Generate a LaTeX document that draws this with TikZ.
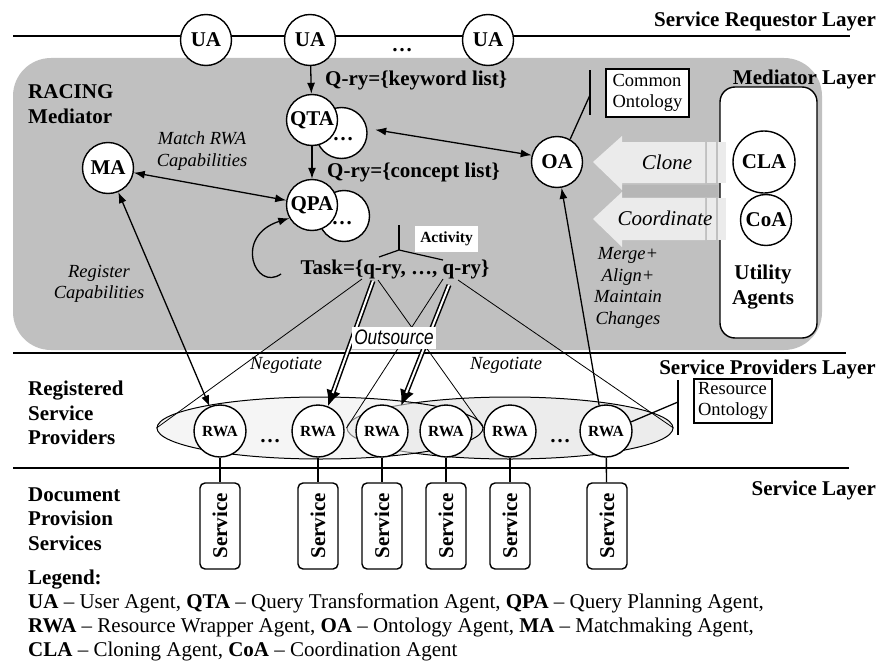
\documentclass[tikz,border=0pt]{standalone}
\usepackage{fontspec}
\usepackage{graphicx}
\setmainfont{Liberation Serif}
\newfontfamily\sansfam{Liberation Sans}
\usetikzlibrary{arrows.meta,shapes.geometric}
\newcommand\fsz[2]{\fontsize{#1}{#2}\selectfont}
\definecolor{medgray}{HTML}{C0C0C0}
\definecolor{lightfill}{HTML}{ECECEC}
\definecolor{arrowfill}{HTML}{EBEBEB}
\definecolor{bandgray}{HTML}{B6B6B6}
\begin{document}
\begin{tikzpicture}[x=1pt,y=-1pt,
 agent/.style={circle, draw, line width=1.4pt, fill=white, minimum size=51pt, inner sep=0pt, font=\bfseries\fsz{21}{24}},
 rwa/.style={agent, minimum size=52pt, font=\bfseries\fsz{15.5}{18}},
 lay/.style={inner sep=0pt, font=\bfseries\fsz{21}{24.5}, align=left},
 bl/.style={inner sep=0pt, font=\bfseries\fsz{21}{24}},
 lbl/.style={inner sep=0pt, font=\itshape\fsz{18.5}{21.5}, align=center},
 arr/.style={line width=1.3pt, -{Latex[length=11pt,width=8pt]}},
 darr/.style={line width=1.3pt, {Latex[length=11pt,width=8pt]}-{Latex[length=11pt,width=8pt]}},
 thinl/.style={line width=0.8pt},
 layline/.style={line width=1.6pt},
 onto/.style={draw, line width=1.1pt, fill=white, align=left, font=\fsz{18.5}{20.5}, inner sep=2.5pt},
 svc/.style={draw, line width=1.4pt, rounded corners=5pt, fill=white, rotate=90, minimum width=86pt, minimum height=40pt, inner sep=0pt, font=\bfseries\fsz{21}{24}},
 outb/.style={line width=5pt, -{Latex[length=16pt,width=15pt]}},
 outw/.style={line width=2pt, white},
 leg/.style={inner sep=0pt, anchor=base west, font=\fsz{21}{24}},
]
\useasboundingbox (0,0) rectangle (877,661);

% ---- mediator area
\fill[medgray, rounded corners=38pt] (13,58) rectangle (822,350);

% ---- layer lines
\coordinate (L1a) at (13,36);  \coordinate (L1b) at (850,36);
\coordinate (L2a) at (13,353); \coordinate (L2b) at (846,353);
\coordinate (L3a) at (13,468); \coordinate (L3b) at (849,468);
\draw[layline] (L1a) -- (L1b);
\draw[layline] (L2a) -- (L2b);
\draw[layline] (L3a) -- (L3b);

% ---- layer titles
\node[bl, anchor=base east] (t1) at (876,27) {Service Requestor Layer};
\node[bl, anchor=base east] (t2) at (876,84) {Mediator Layer};
\node[bl, anchor=base east] (t3) at (876,374) {Service Providers Layer};
\node[bl, anchor=base east] (t4) at (876,495) {Service Layer};

\node[lay, anchor=west] (racing) at (28,104) {RACING\\Mediator};
\node[lay, anchor=west] (regsp) at (28,413) {Registered\\Service\\Providers};
\node[lay, anchor=west] (docps) at (28,519) {Document\\Provision\\Services};

% ---- utility agents block
\fill[bandgray] (622,185) rectangle (718,197);
\fill[arrowfill] (593,162) -- (622,136) -- (622,142) -- (705,142) -- (705,183) -- (622,183) -- (622,190) -- cycle;
\fill[arrowfill] (593,219) -- (622,192) -- (622,198) -- (705,198) -- (705,240) -- (622,240) -- (622,247) -- cycle;
\node[draw, line width=1.4pt, fill=white, rounded corners=15pt, minimum width=97pt, minimum height=251pt, inner sep=0pt] (util) at (768.5,212.5) {};
\fill[arrowfill] (707,142) rectangle (716,183);
\fill[arrowfill] (718,142) rectangle (726,183);
\fill[arrowfill] (707,198) rectangle (716,240);
\fill[arrowfill] (718,198) rectangle (726,240);
\node[inner sep=0pt, font=\itshape\fsz{21}{24}] (clone) at (667,162) {Clone};
\node[inner sep=0pt, font=\itshape\fsz{21}{24}] (coord) at (665,218) {Coordinate};
\node[agent, minimum size=62pt] (CLA) at (764,162) {CLA};
\node[agent] (CoA) at (766,220) {CoA};
\node[lay, align=center] (utxt) at (763,287) {Utility\\Agents};

% ---- provider ellipses
\node[ellipse, draw, line width=1pt, fill=lightfill, minimum width=326pt, minimum height=62pt, inner sep=0pt] (EB) at (510,428) {};
\node[ellipse, draw, line width=1pt, fill=lightfill, fill opacity=0.55, minimum width=326pt, minimum height=62pt, inner sep=0pt] (EA) at (320,428) {};

% ---- agents
\node[agent] (UA1) at (206,40) {UA};
\node[agent] (UA2) at (310,40) {UA};
\node[agent] (UA3) at (488,40) {UA};
\node[bl] (udots) at (402,50) {…};

\node[agent] (QTAs) at (341.5,133) {};
\node[agent] (QTA) at (312,120) {QTA};
\node[bl] (qtadots) at (343,139) {…};
\node[agent] (QPAs) at (344,216) {};
\node[agent] (QPA) at (312,205) {QPA};
\node[bl] (qpadots) at (342,223) {…};

\node[agent] (MA) at (108,168) {MA};
\node[agent] (OA) at (557,162) {OA};

\node[rwa] (RWA1) at (220,431) {RWA};
\node[rwa] (RWA2) at (318,431) {RWA};
\node[rwa] (RWA3) at (382,431) {RWA};
\node[rwa] (RWA4) at (446,431) {RWA};
\node[rwa] (RWA5) at (510,431) {RWA};
\node[rwa] (RWA6) at (606,431) {RWA};
\node[bl] (rdots1) at (270,441) {…};
\node[bl] (rdots2) at (560,441) {…};

% ---- services
\node[svc] (S1) at (220,526) {Service};
\node[svc] (S2) at (318,526) {Service};
\node[svc] (S3) at (382,526) {Service};
\node[svc] (S4) at (446,526) {Service};
\node[svc] (S5) at (510,526) {Service};
\node[svc] (S6) at (607,526) {Service};
\foreach \i in {1,...,6} { \draw[line width=1.4pt] (RWA\i) -- (S\i); }

% ---- ontology boxes
\coordinate (co1) at (590,70); \coordinate (co2) at (590,115); \coordinate (coM) at (590,95);
\draw[line width=1.3pt] (co1) -- (co2);
\draw[line width=1.3pt] (OA.60) -- (coM);
\node[onto, minimum width=83pt, minimum height=48pt] (common) at (647.5,93) {Common\\Ontology};

\coordinate (ro1) at (678,380); \coordinate (ro2) at (678,435); \coordinate (roM) at (678,402);
\draw[line width=1.3pt] (ro1) -- (ro2);
\draw[line width=1.3pt] (RWA6.20) -- (roM);
\node[onto, minimum width=78pt, minimum height=44pt] (resource) at (733,401) {Resource\\Ontology};

% ---- query texts
\node[bl, anchor=base west] (kw) at (325,85) {Q-ry=\{keyword list\}};
\node[bl, anchor=base west] (cl) at (327,177) {Q-ry=\{concept list\}};
\node[bl, anchor=base] (task) at (395,274) {Task=\{q-ry, …, q-ry\}};

% activity
\coordinate (actTop) at (399,225); \coordinate (actFork) at (399,250);
\coordinate (actL) at (379,257); \coordinate (actR) at (443,260);
\draw[line width=1.2pt] (actTop) -- (actFork);
\draw[line width=1.2pt] (actL) -- (actFork) -- (actR);
\node[fill=white, inner sep=0pt, minimum width=63pt, minimum height=26pt, font=\bfseries\fsz{15.5}{18}] (act) at (446.5,239) {Activity};

% ---- arrows
\draw[arr] (UA2) -- (QTA);
\draw[arr] (QTA) -- (QPA);
\draw[darr] (MA) -- (QPA);
\draw[darr] (MA) -- (RWA1);
\draw[darr, shorten <=8pt] (QTAs.10) -- (OA.165);
\draw[arr] (RWA6.105) -- (OA.280);
\coordinate (tl) at (281,274);
\draw[arr] (tl) .. controls (255,292) and (233,236) .. (QPA.210);

% ---- thin lines task -> ellipses
\coordinate (q1a) at (362,279); \coordinate (q1b) at (378,280); \coordinate (q1d) at (373,281);
\coordinate (q2a) at (443,279); \coordinate (q2b) at (458,280); \coordinate (q2d) at (449,285);
\draw[thinl] (q1a) -- (EA.west);
\draw[thinl] (q1b) -- (EA.east);
\draw[thinl] (q2a) -- (EB.west);
\draw[thinl] (q2b) -- (EB.east);

% ---- labels
\node[lbl] (match) at (202,151) {Match RWA\\Capabilities};
\node[lbl] (regcap) at (99,284) {Register\\Capabilities};
\node[lbl] (merge) at (628,288) {Merge+\\Align+\\Maintain\\Changes};
\node[lbl] (neg1) at (286,365) {Negotiate};
\node[lbl] (neg2) at (506,365) {Negotiate};

% ---- outsource double arrows
\draw[outb] (q1d) -- (RWA2.68);
\draw[outw, shorten >=14pt] (q1d) -- (RWA2.68);
\draw[outb, shorten >=5pt] (q2d) -- (RWA3.50);
\draw[outw, shorten >=19pt] (q2d) -- (RWA3.50);
\node[fill=white, inner xsep=2pt, inner ysep=1.5pt, minimum height=22pt, font=\sansfam\itshape\fsz{21}{24}] (outs) at (394,337.5) {\scalebox{0.82}[1]{Outsource}};

% ---- legend
\node[leg, font=\bfseries\fsz{21}{24}] (legt) at (28,584) {Legend:};
\node[leg] (leg1) at (28,608) {\textbf{UA} – User Agent, \textbf{QTA} – Query Transformation Agent, \textbf{QPA} – Query Planning Agent,};
\node[leg] (leg2) at (28,632) {\textbf{RWA} – Resource Wrapper Agent, \textbf{OA} – Ontology Agent, \textbf{MA} – Matchmaking Agent,};
\node[leg] (leg3) at (28,656) {\textbf{CLA} – Cloning Agent, \textbf{CoA} – Coordination Agent};
\end{tikzpicture}
\end{document}
